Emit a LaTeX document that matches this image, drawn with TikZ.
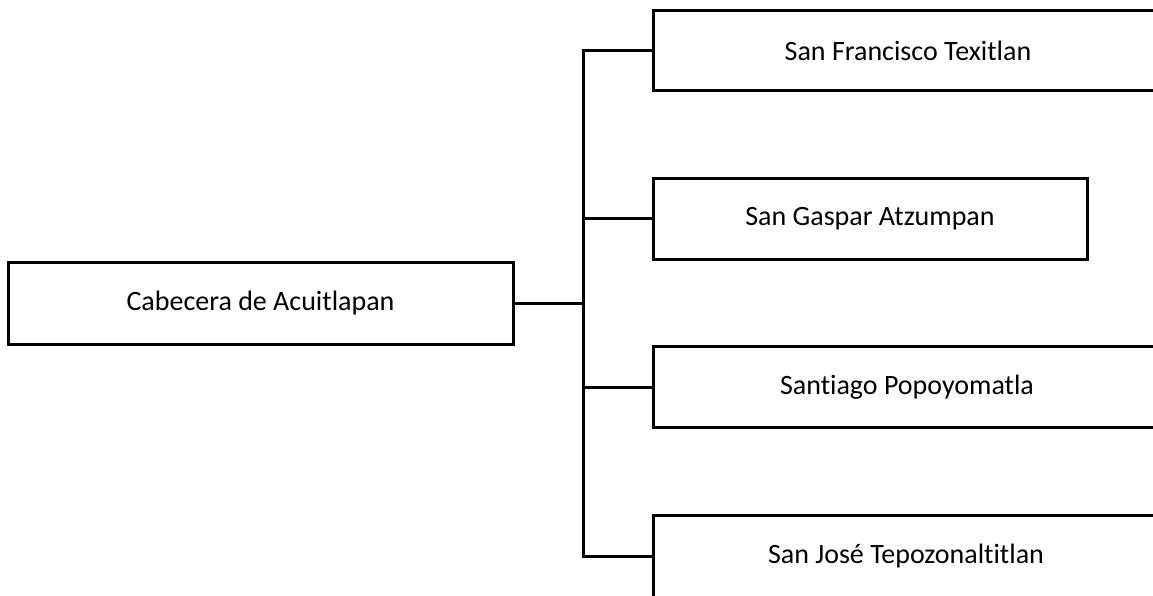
\documentclass[tikz,border=0pt]{standalone}
\usepackage{fontspec}
\setmainfont[Ligatures={NoCommon}]{Carlito}
\begin{document}
\begin{tikzpicture}[x=1pt,y=-1pt,
  box/.style={draw=black,line width=3pt,rectangle,inner sep=0pt,font=\fontsize{28}{33}\selectfont},
  conn/.style={draw=black,line width=3pt}]
\useasboundingbox (0,0) rectangle (1153,595);
\clip (0,0) rectangle (1153,595);
\node[box,minimum width=505pt,minimum height=82pt] (L) at (260.5,303) {Cabecera de Acuitlapan};
\node[box,minimum width=510pt,minimum height=80pt] (b1) at (908,50.5) {San Francisco Texitlan};
\node[box,minimum width=434pt,minimum height=81pt] (b2) at (870,218.5) {San Gaspar Atzumpan};
\node[box,minimum width=508pt,minimum height=81pt] (b3) at (907,387) {Santiago Popoyomatla};
\node[box,minimum width=506pt,minimum height=82pt] (b4) at (906,556) {San José Tepozonaltitlan};
\coordinate (j) at (583,303);
\draw[conn] (L.east) -- (j);
\draw[conn] (b1.west) -- (b1.west -| j) -- (b4.west -| j) -- (b4.west);
\draw[conn] (b2.west) -- (b2.west -| j);
\draw[conn] (b3.west) -- (b3.west -| j);
\end{tikzpicture}
\end{document}
